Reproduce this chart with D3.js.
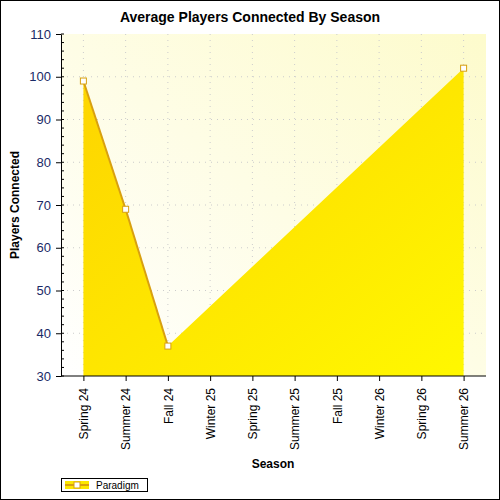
<!DOCTYPE html>
<html><head><meta charset="utf-8">
<script src="https://cdn.jsdelivr.net/npm/d3@7"></script>
<style>body{margin:0;background:#fff}text{font-family:Arial,"Liberation Sans",sans-serif}</style>
</head><body><div id="chart"></div>
<script>
var seasons = ["Spring 24","Summer 24","Fall 24","Winter 25","Spring 25","Summer 25","Fall 25","Winter 26","Spring 26","Summer 26"];
var players = [99, 69, 37, null, null, null, null, null, null, 102];
var yTicks = [30,40,50,60,70,80,90,100,110];
var seriesName = "Paradigm";

var svg = d3.select("#chart").append("svg").attr("width",500).attr("height",500);
svg.append("rect").attr("x",0.5).attr("y",0.5).attr("width",499).attr("height",499)
  .attr("fill","#fff").attr("stroke","#000");

var plotL = 61, plotR = 486, plotT = 34, plotB = 376;
var x = d3.scalePoint().domain(seasons).range([plotL,plotR]).padding(0.53);
var y = d3.scaleLinear().domain([30,110]).range([plotB,plotT]);

var defs = svg.append("defs");
var bg = defs.append("linearGradient").attr("id","bg").attr("x1","0").attr("y1","1").attr("x2","1").attr("y2","0");
bg.append("stop").attr("offset","0").attr("stop-color","#ffffff");
bg.append("stop").attr("offset","1").attr("stop-color","#fdfbcc");
var fg = defs.append("linearGradient").attr("id","fg").attr("x1","0").attr("y1","0").attr("x2","1").attr("y2","1");
fg.append("stop").attr("offset","0").attr("stop-color","#fdd400");
fg.append("stop").attr("offset","1").attr("stop-color","#fff800");

svg.append("rect").attr("x",plotL).attr("y",plotT).attr("width",plotR-plotL).attr("height",plotB-plotT).attr("fill","url(#bg)");

// grid
var g = svg.append("g").attr("stroke","#ccc").attr("stroke-dasharray","1,5");
yTicks.slice(1,-1).forEach(function(t){ g.append("line").attr("x1",plotL).attr("x2",plotR).attr("y1",y(t)).attr("y2",y(t)); });
seasons.forEach(function(s){ g.append("line").attr("x1",x(s)).attr("x2",x(s)).attr("y1",plotT).attr("y2",plotB); });

var pts = seasons.map(function(s,i){ return {s:s, v:players[i]}; }).filter(function(d){ return d.v != null; });

svg.append("path").datum(pts).attr("fill","url(#fg)")
  .attr("d", d3.area().x(function(d){return x(d.s);}).y0(plotB).y1(function(d){return y(d.v);}));

// outline only between adjacent categories
var idx = function(d){ return seasons.indexOf(d.s); };
for (var i=0;i<pts.length-1;i++){
  if (idx(pts[i+1]) - idx(pts[i]) === 1) {
    svg.append("line").attr("x1",x(pts[i].s)).attr("y1",y(pts[i].v)).attr("x2",x(pts[i+1].s)).attr("y2",y(pts[i+1].v))
      .attr("stroke","#d8a010").attr("stroke-width",2);
  }
}
svg.selectAll("rect.pt").data(pts).enter().append("rect").attr("class","pt")
  .attr("x",function(d){return x(d.s)-3;}).attr("y",function(d){return y(d.v)-3;})
  .attr("width",6).attr("height",6).attr("fill","#fff").attr("stroke","#d8a010");

// axes
var ya = svg.append("g").attr("transform","translate("+plotL+",0)")
  .call(d3.axisLeft(y).tickValues(yTicks).tickSize(5).tickSizeOuter(0));
var minor = d3.range(30,110.1,2);
ya.selectAll("line.minor").data(minor).enter().append("line").attr("class","minor")
  .attr("x1",0).attr("x2",3).attr("y1",function(d){return y(d);}).attr("y2",function(d){return y(d);}).attr("stroke","#000");
ya.selectAll("text").attr("font-size",13).attr("fill","#1a2a66").attr("x",-10);
ya.select(".domain").attr("stroke","#000");

var xa = svg.append("g").attr("transform","translate(0,"+plotB+")")
  .call(d3.axisBottom(x).tickSize(5).tickSizeOuter(0));
xa.select(".domain").attr("d","M"+plotL+",0H"+plotR);
xa.selectAll("text").attr("font-size",12).attr("fill","#000")
  .attr("transform","rotate(-90)").attr("text-anchor","end").attr("x",-12).attr("y",0).attr("dy","0.35em");

svg.append("text").attr("x",250).attr("y",22).attr("text-anchor","middle").attr("font-weight","bold").attr("font-size",14).text("Average Players Connected By Season");
svg.append("text").attr("x",273).attr("y",468).attr("text-anchor","middle").attr("font-weight","bold").attr("font-size",12).text("Season");
svg.append("text").attr("transform","translate(19,205) rotate(-90)").attr("text-anchor","middle").attr("font-weight","bold").attr("font-size",12).text("Players Connected");

// legend
var lg = svg.append("g");
lg.append("rect").attr("x",61.5).attr("y",478.5).attr("width",86).attr("height",13).attr("fill","#fff").attr("stroke","#000");
lg.append("rect").attr("x",65).attr("y",481).attr("width",24).attr("height",8).attr("fill","#fde800");
lg.append("line").attr("x1",65).attr("x2",89).attr("y1",485).attr("y2",485).attr("stroke","#d8a010").attr("stroke-width",2);
lg.append("rect").attr("x",74).attr("y",482).attr("width",6).attr("height",6).attr("fill","#fff").attr("stroke","#d8a010");
lg.append("text").attr("x",96).attr("y",489).attr("font-size",10).text(seriesName);
</script></body></html>
